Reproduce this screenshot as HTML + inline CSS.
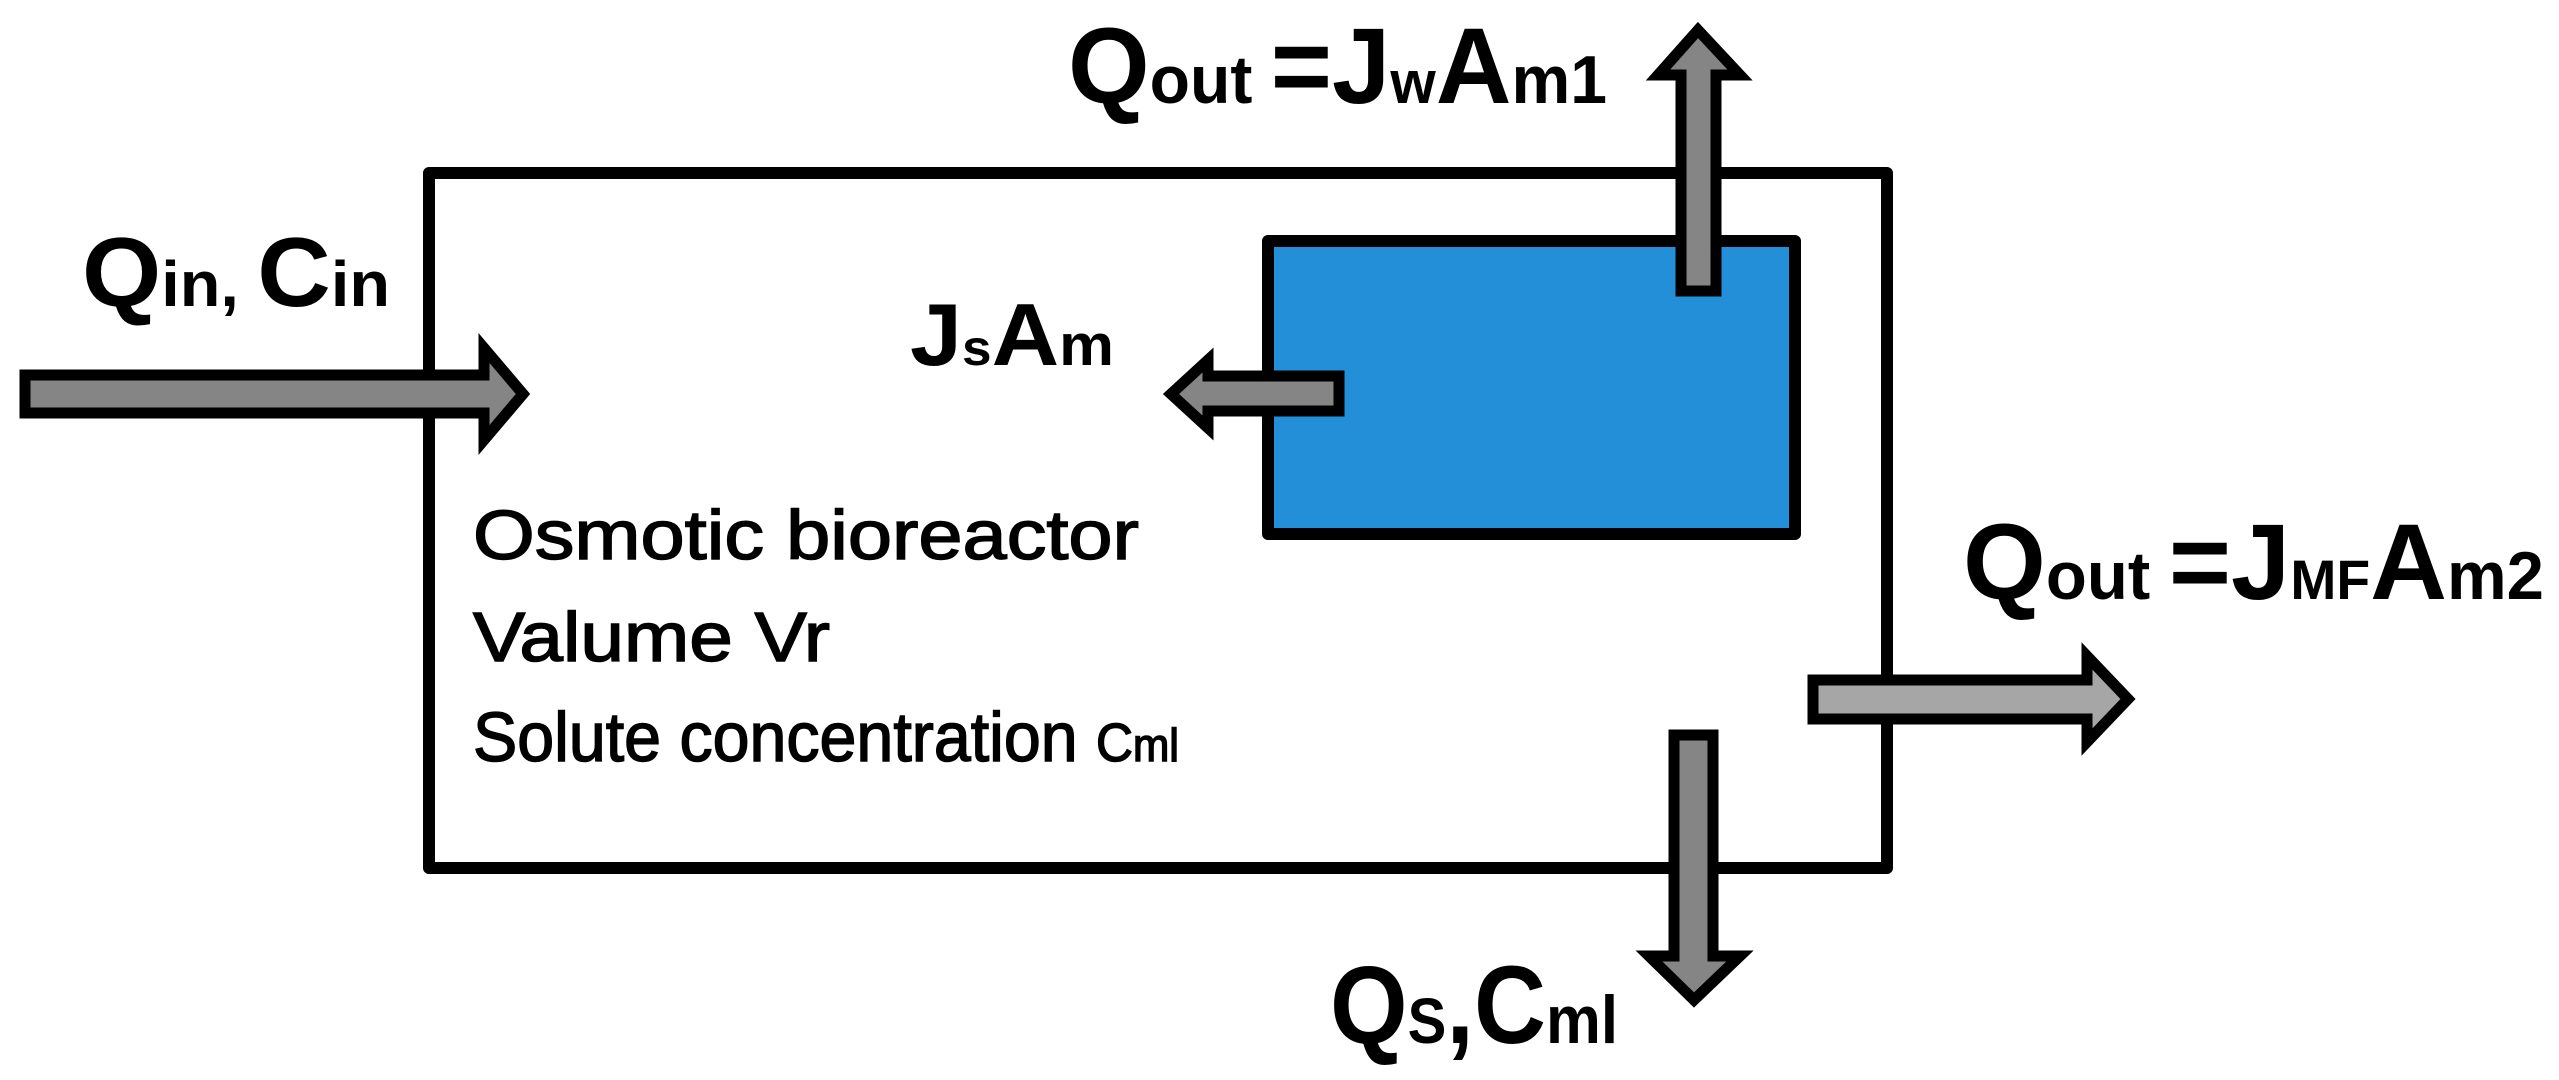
<!DOCTYPE html>
<html><head><meta charset="utf-8"><style>
html,body{margin:0;padding:0;background:#fff;}
svg{display:block;}
text{font-family:"Liberation Sans",sans-serif;fill:#000;}
</style></head><body>
<svg width="2559" height="1080" viewBox="0 0 2559 1080" xmlns="http://www.w3.org/2000/svg">
<rect x="0" y="0" width="2559" height="1080" fill="#fff"/>
<rect x="429" y="173" width="1458" height="695" fill="none" stroke="#000" stroke-width="12" stroke-linejoin="round"/>
<rect x="1268" y="241" width="527" height="293" fill="#228fd8" stroke="#000" stroke-width="12" stroke-linejoin="round"/>
<g stroke="#000" stroke-width="11" stroke-linejoin="miter" stroke-miterlimit="10" fill="#858585">
<polygon points="25,375 484,375 484,348 523,394 484,440 484,413 25,413"/>
<polygon points="1339,376 1208,376 1208,360 1171,394 1208,428 1208,411 1339,411"/>
<polygon points="1681,291 1681,75 1658,75 1698,30 1740,75 1716,75 1716,291"/>
<polygon points="1674,735 1674,956 1649,956 1694,1000 1740,956 1713,956 1713,735"/>
<polygon points="1813,680 2087,680 2087,656 2128,699 2087,742 2087,719 1813,719" fill="#a6a6a6"/>
</g>
<g font-weight="bold">
<text x="82" y="306" font-size="98" textLength="308" lengthAdjust="spacingAndGlyphs">Q<tspan font-size="64">in, </tspan>C<tspan font-size="64">in</tspan></text>
<text x="910" y="365" font-size="88" textLength="204" lengthAdjust="spacingAndGlyphs">J<tspan font-size="50">s</tspan>A<tspan font-size="58">m</tspan></text>
<text x="1068" y="103" font-size="108" textLength="539" lengthAdjust="spacingAndGlyphs">Q<tspan font-size="68">out </tspan>=J<tspan font-size="60">w</tspan>A<tspan font-size="68">m1</tspan></text>
<text x="1963" y="599" font-size="108" textLength="581" lengthAdjust="spacingAndGlyphs">Q<tspan font-size="68">out </tspan>=J<tspan font-size="56">MF</tspan>A<tspan font-size="68">m2</tspan></text>
<text x="1330" y="1043" font-size="110" textLength="288" lengthAdjust="spacingAndGlyphs">Q<tspan font-size="64">S</tspan>,C<tspan font-size="68">ml</tspan></text>
</g>
<g font-weight="normal" stroke="#000" stroke-width="1.5">
<text x="473" y="559" font-size="70" textLength="666" lengthAdjust="spacingAndGlyphs">Osmotic bioreactor</text>
<text x="473" y="661" font-size="70" textLength="357" lengthAdjust="spacingAndGlyphs">Valume Vr</text>
<text x="473" y="761" font-size="70" textLength="706" lengthAdjust="spacingAndGlyphs">Solute concentration <tspan font-size="54">C</tspan><tspan font-size="46">ml</tspan></text>
</g>
</svg>
</body></html>
